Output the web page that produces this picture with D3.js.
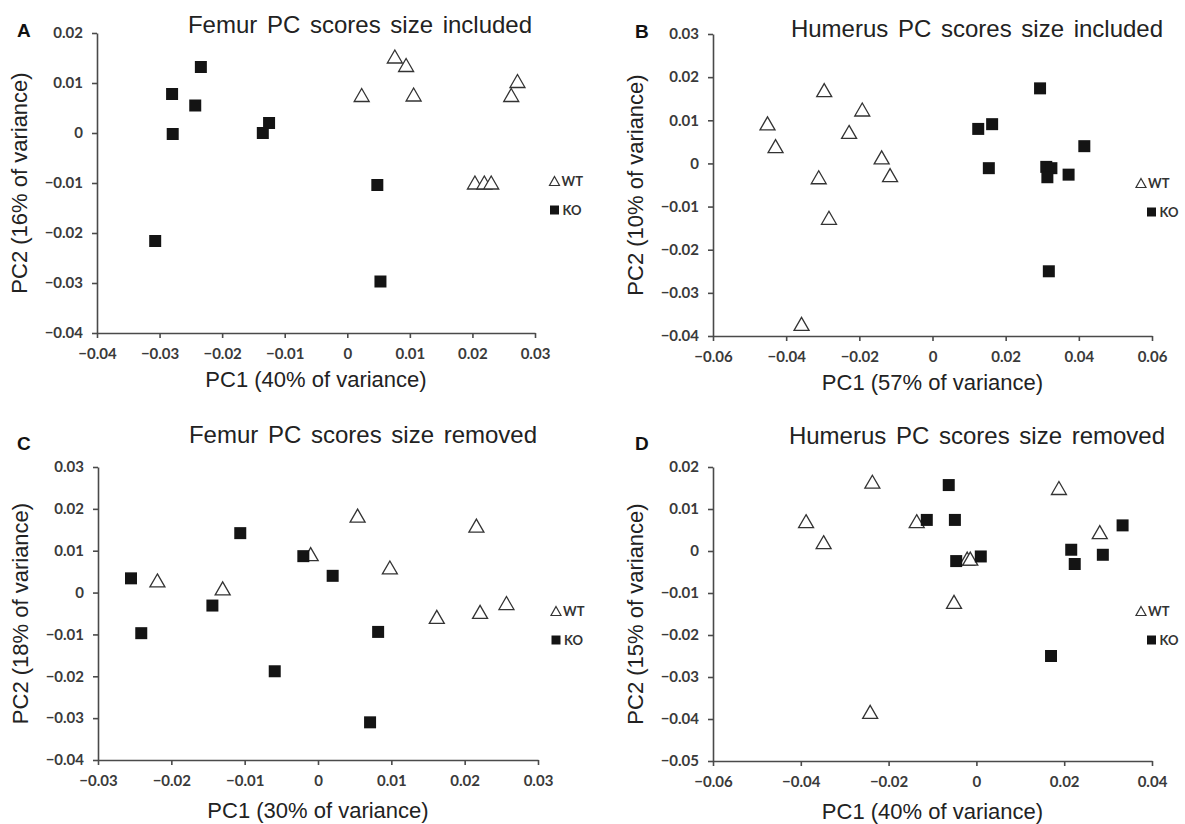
<!DOCTYPE html>
<head>
    <meta charset="utf-8" />
    <title>PC scores</title>
    <script src="https://d3js.org/d3.v7.min.js"></script>
    <style>
        body { margin: 0; background: #fff; }
        .tick text { font-family: Lato, "Open Sans", sans-serif; font-weight: bold; font-size: 15px; fill: #3a3a3a; }
        .axis path, .axis line { stroke: #4a4a4a; stroke-width: 1.6px; }
        .ptitle { font-family: "Liberation Sans", Arial, sans-serif; font-size: 24px; fill: #222; word-spacing: 3px; }
        .atitle { font-family: "Liberation Sans", Arial, sans-serif; font-size: 22px; fill: #222; }
        .letter { font-family: "Liberation Sans", Arial, sans-serif; font-size: 19px; font-weight: bold; fill: #111; }
        .legend { font-family: Lato, sans-serif; font-size: 13px; font-weight: bold; fill: #333; }
    </style>
</head>
<body>
<svg width="1185" height="824"></svg>
<script>
    // A: femur, size included
    let femurInclWtX = [0.0076, 0.0094, 0.0023, 0.0106, 0.0272, 0.0262, 0.0204, 0.0219, 0.0230];
    let femurInclWtY = [0.0153, 0.0136, 0.0076, 0.0077, 0.0104, 0.0076, -0.0099, -0.0099, -0.0099];
    let femurInclKoX = [-0.0234, -0.0280, -0.0243, -0.0279, -0.0135, -0.0125, 0.0048, -0.0307, 0.0053];
    let femurInclKoY = [0.0132, 0.0078, 0.0055, -0.0002, 0.0000, 0.0020, -0.0104, -0.0216, -0.0297];

    // B: humerus, size included
    let humInclWtX = [-0.0451, -0.0429, -0.0296, -0.0192, -0.0228, -0.0139, -0.0116, -0.0311, -0.0283, -0.0358];
    let humInclWtY = [0.0093, 0.0040, 0.0170, 0.0125, 0.0073, 0.0014, -0.0027, -0.0032, -0.0126, -0.0372];
    let humInclKoX = [0.0294, 0.0125, 0.0163, 0.0154, 0.0415, 0.0311, 0.0325, 0.0314, 0.0372, 0.0318];
    let humInclKoY = [0.0174, 0.0080, 0.0091, -0.0011, 0.0040, -0.0008, -0.0011, -0.0032, -0.0026, -0.0250];

    // C: femur, size removed
    let femurRemWtX = [-0.0219, -0.0130, -0.0010, 0.0054, 0.0098, 0.0216, 0.0162, 0.0221, 0.0257];
    let femurRemWtY = [0.0029, 0.0010, 0.0092, 0.0184, 0.0060, 0.0160, -0.0058, -0.0046, -0.0025];
    let femurRemKoX = [-0.0255, -0.0241, -0.0144, -0.0106, -0.0059, -0.0020, 0.0020, 0.0082, 0.0071];
    let femurRemKoY = [0.0034, -0.0097, -0.0031, 0.0142, -0.0188, 0.0087, 0.0040, -0.0094, -0.0310];

    // D: humerus, size removed
    let humRemWtX = [-0.0237, -0.0388, -0.0348, -0.0136, -0.0021, -0.0014, -0.0051, -0.0242, 0.0188, 0.0281];
    let humRemWtY = [0.0165, 0.0071, 0.0021, 0.0071, -0.0018, -0.0018, -0.0121, -0.0383, 0.0150, 0.0045];
    let humRemKoX = [-0.0063, -0.0113, -0.0049, -0.0046, 0.0010, 0.0216, 0.0224, 0.0288, 0.0333, 0.0170];
    let humRemKoY = [0.0157, 0.0074, 0.0074, -0.0024, -0.0013, 0.0003, -0.0031, -0.0009, 0.0061, -0.0250];

    let ticksFemurInclX = [-0.04, -0.03, -0.02, -0.01, 0, 0.01, 0.02, 0.03];
    let ticksFemurInclY = [-0.04, -0.03, -0.02, -0.01, 0, 0.01, 0.02];
    let ticksHumInclX = [-0.06, -0.04, -0.02, 0, 0.02, 0.04, 0.06];
    let ticksHumInclY = [-0.04, -0.03, -0.02, -0.01, 0, 0.01, 0.02, 0.03];
    let ticksFemurRemX = [-0.03, -0.02, -0.01, 0, 0.01, 0.02, 0.03];
    let ticksFemurRemY = [-0.04, -0.03, -0.02, -0.01, 0, 0.01, 0.02, 0.03];
    let ticksHumRemX = [-0.06, -0.04, -0.02, 0, 0.02, 0.04];
    let ticksHumRemY = [-0.05, -0.04, -0.03, -0.02, -0.01, 0, 0.01, 0.02];

    let panelTitles = ["Femur PC scores size included", "Humerus PC scores size included",
                       "Femur PC scores size removed", "Humerus PC scores size removed"];
    let xTitles = ["PC1 (40% of variance)", "PC1 (57% of variance)", "PC1 (30% of variance)", "PC1 (40% of variance)"];
    let yTitles = ["PC2 (16% of variance)", "PC2 (10% of variance)", "PC2 (18% of variance)", "PC2 (15% of variance)"];
    let letters = ["A", "B", "C", "D"];
    let groups = ["WT", "KO"];

    let svg = d3.select("svg");

    let panels = [
        {wt: [femurInclWtX, femurInclWtY], ko: [femurInclKoX, femurInclKoY], xt: ticksFemurInclX, yt: ticksFemurInclY,
         box: {l: 97, r: 535, t: 33, b: 333}, titleY: 33, letterY: 37, xTitleDy: 54, legX: 554.5, legDx: 0, legY: 148},
        {wt: [humInclWtX, humInclWtY], ko: [humInclKoX, humInclKoY], xt: ticksHumInclX, yt: ticksHumInclY,
         box: {l: 713, r: 1152, t: 34, b: 336}, titleY: 37, letterY: 38, xTitleDy: 54, legX: 1141, legDx: 10.5, legY: 149},
        {wt: [femurRemWtX, femurRemWtY], ko: [femurRemKoX, femurRemKoY], xt: ticksFemurRemX, yt: ticksFemurRemY,
         box: {l: 98, r: 538, t: 467, b: 760}, titleY: 443, letterY: 450, xTitleDy: 58, legX: 556, legDx: 0, legY: 144},
        {wt: [humRemWtX, humRemWtY], ko: [humRemKoX, humRemKoY], xt: ticksHumRemX, yt: ticksHumRemY,
         box: {l: 713, r: 1152, t: 467, b: 761}, titleY: 444, letterY: 450, xTitleDy: 58, legX: 1141, legDx: 10.5, legY: 144}
    ];

    function tickLabel(v) {
        if (Math.abs(v) < 1e-9) return "0";
        return d3.format(".2f")(v);
    }

    function triangle(w, h) {
        return "M0," + (-h / 2) + "L" + (w / 2) + "," + (h / 2) + "L" + (-w / 2) + "," + (h / 2) + "Z";
    }

    function square(s) {
        return "M" + (-s / 2) + "," + (-s / 2) + "h" + s + "v" + s + "h" + (-s) + "Z";
    }

    function drawPanel(p, i) {
        let b = p.box;
        let x = d3.scaleLinear().domain(d3.extent(p.xt)).range([b.l, b.r]);
        let y = d3.scaleLinear().domain(d3.extent(p.yt)).range([b.b, b.t]);
        let g = svg.append("g");

        g.append("g").attr("class", "axis")
            .attr("transform", "translate(0," + b.b + ")")
            .call(d3.axisBottom(x).tickValues(p.xt).tickFormat(tickLabel).tickSize(5).tickSizeOuter(0).tickPadding(10));
        g.append("g").attr("class", "axis")
            .attr("transform", "translate(" + b.l + ",0)")
            .call(d3.axisLeft(y).tickValues(p.yt).tickFormat(tickLabel).tickSize(5).tickSizeOuter(0).tickPadding(9));

        let wtPts = p.wt[0].map((v, k) => [v, p.wt[1][k]]);
        let koPts = p.ko[0].map((v, k) => [v, p.ko[1][k]]);

        g.selectAll(".wt").data(wtPts).enter().append("path")
            .attr("d", triangle(15, 13))
            .attr("transform", d => "translate(" + x(d[0]) + "," + y(d[1]) + ")")
            .attr("fill", "#fff").attr("stroke", "#333").attr("stroke-width", 1.3);
        g.selectAll(".ko").data(koPts).enter().append("path")
            .attr("d", square(12))
            .attr("transform", d => "translate(" + x(d[0]) + "," + y(d[1]) + ")")
            .attr("fill", "#141414");

        g.append("text").attr("class", "ptitle")
            .attr("x", b.r - 175).attr("y", p.titleY)
            .attr("text-anchor", "middle").text(panelTitles[i]);
        g.append("text").attr("class", "letter")
            .attr("x", b.l < 300 ? 17 : 635).attr("y", p.letterY).text(letters[i]);
        g.append("text").attr("class", "atitle")
            .attr("x", (b.l + b.r) / 2).attr("y", b.b + p.xTitleDy)
            .attr("text-anchor", "middle").text(xTitles[i]);
        g.append("text").attr("class", "atitle")
            .attr("transform", "translate(" + (b.l - 70) + "," + ((b.t + b.b) / 2) + ") rotate(-90)")
            .attr("text-anchor", "middle").text(yTitles[i]);

        // legend
        let ly = b.t + p.legY;
        g.append("path").attr("d", triangle(10, 9))
            .attr("transform", "translate(" + p.legX + "," + ly + ")")
            .attr("fill", "#fff").attr("stroke", "#333").attr("stroke-width", 1.2);
        g.append("text").attr("class", "legend").attr("x", p.legX + 7).attr("y", ly + 5).text(groups[0]);
        g.append("path").attr("d", square(9))
            .attr("transform", "translate(" + (p.legX + p.legDx) + "," + (ly + 29) + ")")
            .attr("fill", "#141414");
        g.append("text").attr("class", "legend").attr("x", p.legX + p.legDx + 8).attr("y", ly + 34).text(groups[1]);
    }

    panels.forEach(drawPanel);
</script>
</body>
